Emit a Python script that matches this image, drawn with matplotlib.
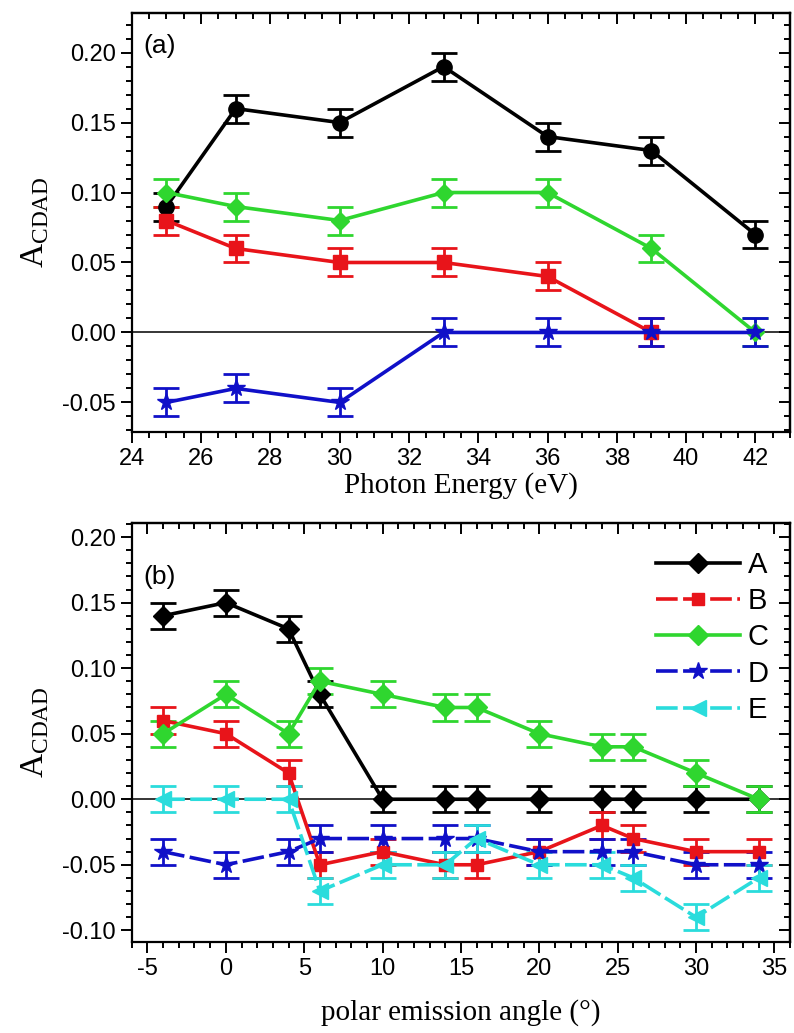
import matplotlib
matplotlib.use("Agg")
import matplotlib.pyplot as plt
from matplotlib.ticker import MultipleLocator
from matplotlib.lines import Line2D

# ---------- data: panel (a) ----------
energy = [25, 27, 30, 33, 36, 39, 42]
a_black = [0.09, 0.16, 0.15, 0.19, 0.14, 0.13, 0.07]
a_green = [0.10, 0.09, 0.08, 0.10, 0.10, 0.06, 0.00]
energy_red = [25, 27, 30, 33, 36, 39]
a_red = [0.08, 0.06, 0.05, 0.05, 0.04, 0.00]
a_blue = [-0.05, -0.04, -0.05, 0.00, 0.00, 0.00, 0.00]
err_a = 0.01

# ---------- data: panel (b) ----------
angle = [-4, 0, 4, 6, 10, 14, 16, 20, 24, 26, 30, 34]
b_A = [0.14, 0.15, 0.13, 0.08, 0.00, 0.00, 0.00, 0.00, 0.00, 0.00, 0.00, 0.00]
b_B = [0.06, 0.05, 0.02, -0.05, -0.04, -0.05, -0.05, -0.04, -0.02, -0.03, -0.04, -0.04]
b_C = [0.05, 0.08, 0.05, 0.09, 0.08, 0.07, 0.07, 0.05, 0.04, 0.04, 0.02, 0.00]
b_D = [-0.04, -0.05, -0.04, -0.03, -0.03, -0.03, -0.03, -0.04, -0.04, -0.04, -0.05, -0.05]
b_E = [0.00, 0.00, 0.00, -0.07, -0.05, -0.05, -0.03, -0.05, -0.05, -0.06, -0.09, -0.06]
err_b = 0.01
labels_b = ["A", "B", "C", "D", "E"]

BLACK = "#000000"
RED = "#e8141a"
GREEN = "#2fd62f"
BLUE = "#1010c8"
CYAN = "#2adcdc"

SERIF = ["Liberation Serif", "DejaVu Serif"]
SANS = ["Liberation Sans", "DejaVu Sans"]
plt.rcParams["font.family"] = SANS
plt.rcParams["axes.unicode_minus"] = False

LW = 2.6
EW = 2.0
CAP = 9.5
DASH = (0, (6, 1.5))

fig = plt.figure(figsize=(7.94, 10.33), dpi=100)
ax1 = fig.add_axes([0.166, 0.582, 0.829, 0.405])
ax2 = fig.add_axes([0.166, 0.088, 0.829, 0.406])

def eb(ax, x, y, err, color, marker, ms, ls="-", label=None):
    ax.errorbar(x, y, yerr=err, color=color, ecolor=color,
                marker=marker, ms=ms, lw=LW, ls=ls, elinewidth=EW,
                capsize=CAP, capthick=EW, label=label, zorder=3)

def style_axis(ax):
    for s in ax.spines.values():
        s.set_linewidth(1.6)
    ax.tick_params(axis="both", which="both", labelsize=17, width=1.4,
                   direction="out", top=False, right=False)
    ax.tick_params(which="major", length=8)
    ax.tick_params(which="minor", length=4.5)
    ax.axhline(0, color="black", lw=1.1, zorder=1)
    sec_x = ax.secondary_xaxis("top")
    sec_x.xaxis.set_major_locator(ax.xaxis.get_major_locator())
    sec_x.xaxis.set_minor_locator(ax.xaxis.get_minor_locator())
    sec_x.tick_params(which="both", direction="in", labeltop=False, width=1.4)
    sec_x.tick_params(which="major", length=8)
    sec_x.tick_params(which="minor", length=4.5)
    sec_x.spines["top"].set_linewidth(1.6)
    sec_y = ax.secondary_yaxis("right")
    sec_y.yaxis.set_major_locator(ax.yaxis.get_major_locator())
    sec_y.yaxis.set_minor_locator(ax.yaxis.get_minor_locator())
    sec_y.tick_params(which="both", direction="in", labelright=False, width=1.4)
    sec_y.tick_params(which="major", length=8)
    sec_y.tick_params(which="minor", length=4.5)
    sec_y.spines["right"].set_linewidth(1.6)

fmt = plt.FuncFormatter(lambda v, p: f"{v:.2f}")

# ---------- panel (a) ----------
eb(ax1, energy, a_black, err_a, BLACK, "o", 11)
eb(ax1, energy, a_green, err_a, GREEN, "D", 9)
eb(ax1, energy_red, a_red, err_a, RED, "s", 9.5)
eb(ax1, energy, a_blue, err_a, BLUE, "*", 13)
ax1.set_xlim(24, 43)
ax1.set_ylim(-0.071, 0.228)
ax1.xaxis.set_major_locator(MultipleLocator(2))
ax1.xaxis.set_minor_locator(MultipleLocator(0.5))
ax1.yaxis.set_major_locator(MultipleLocator(0.05))
ax1.yaxis.set_minor_locator(MultipleLocator(0.01))
ax1.yaxis.set_major_formatter(fmt)
style_axis(ax1)
ax1.set_xlabel("Photon Energy (eV)", fontsize=21, family=SERIF, labelpad=2)
ax1.set_ylabel(r"A$_{\mathregular{CDAD}}$", fontsize=24, family=SERIF, labelpad=8)
ax1.text(0.018, 0.905, "(a)", transform=ax1.transAxes, fontsize=19)

# ---------- panel (b) ----------
eb(ax2, angle, b_A, err_b, BLACK, "D", 10, label="A")
eb(ax2, angle, b_B, err_b, RED, "s", 9, label="B")
eb(ax2, angle, b_C, err_b, GREEN, "D", 10, label="C")
eb(ax2, angle, b_D, err_b, BLUE, "*", 13, ls=DASH, label="D")
eb(ax2, angle, b_E, err_b, CYAN, "<", 11, ls=DASH, label="E")
ax2.set_xlim(-6, 36)
ax2.set_ylim(-0.109, 0.211)
ax2.xaxis.set_major_locator(MultipleLocator(5))
ax2.xaxis.set_minor_locator(MultipleLocator(1))
ax2.yaxis.set_major_locator(MultipleLocator(0.05))
ax2.yaxis.set_minor_locator(MultipleLocator(0.01))
ax2.yaxis.set_major_formatter(fmt)
style_axis(ax2)
ax2.set_xlabel("polar emission angle (°)", fontsize=21, family=SERIF, labelpad=14)
ax2.set_ylabel(r"A$_{\mathregular{CDAD}}$", fontsize=24, family=SERIF, labelpad=8)
ax2.text(0.018, 0.855, "(b)", transform=ax2.transAxes, fontsize=19)

handles = [
    Line2D([], [], color=BLACK, marker="D", ms=10, lw=LW),
    Line2D([], [], color=RED, marker="s", ms=9, lw=LW, ls=DASH),
    Line2D([], [], color=GREEN, marker="D", ms=10, lw=LW),
    Line2D([], [], color=BLUE, marker="*", ms=13, lw=LW, ls=DASH),
    Line2D([], [], color=CYAN, marker="<", ms=11, lw=LW, ls=DASH),
]
ax2.legend(handles, labels_b, loc="upper right", frameon=False, fontsize=21,
           handlelength=2.9, handletextpad=0.25, labelspacing=0.28,
           borderaxespad=0.0, bbox_to_anchor=(0.985, 0.96))

fig.savefig("out.png", dpi=100)
